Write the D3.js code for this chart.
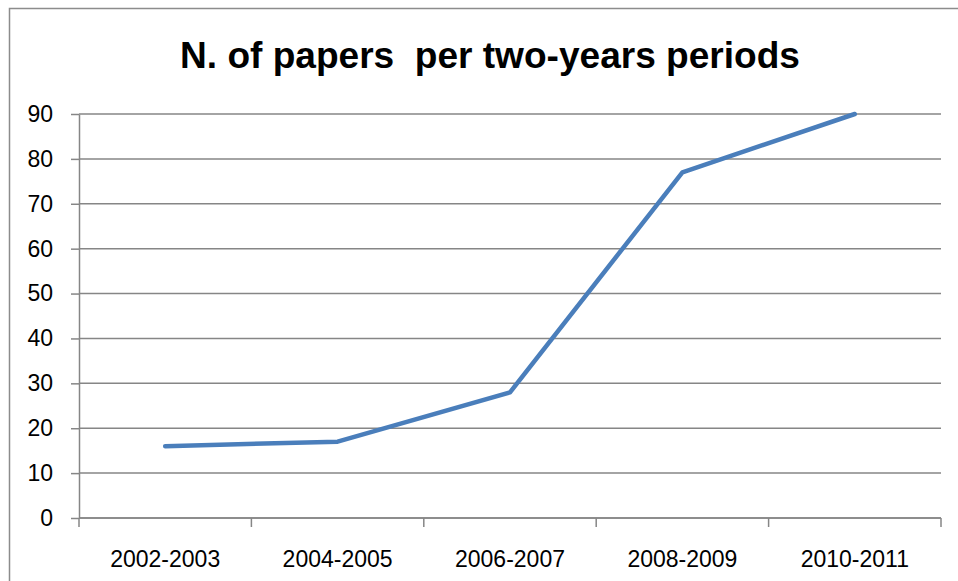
<!DOCTYPE html>
<html>
<head>
<meta charset="utf-8">
<script src="https://cdn.jsdelivr.net/npm/d3@7"></script>
<style>
  html, body { margin: 0; padding: 0; background: #fff; }
  svg { display: block; }
</style>
</head>
<body>
<svg id="chart" width="958" height="581"></svg>
<script>
// Papers published per two-year period
const periods = ["2002-2003", "2004-2005", "2006-2007", "2008-2009", "2010-2011"];
const papers = [16, 17, 28, 77, 90];
const yTicks = [0, 10, 20, 30, 40, 50, 60, 70, 80, 90];
const titleText = "N. of papers\u00a0 per two-years periods";

const svg = d3.select("#chart");
const W = 958, H = 581;
const plot = { left: 79, right: 941, top: 114, bottom: 518 };
const gridColor = "#868686";
const font = "Liberation Sans, Arial, sans-serif";
const labelSize = "23px";

// chart frame (left and top edges are visible)
svg.append("path")
  .attr("d", `M9.5,${H} V8.5 H${W}`)
  .attr("fill", "none")
  .attr("stroke", "#8c8c8c")
  .attr("stroke-width", 1.5);

const x = d3.scaleBand().domain(periods).range([plot.left, plot.right]);
const y = d3.scaleLinear().domain([0, 90]).range([plot.bottom, plot.top]);

// horizontal gridlines
svg.append("g")
  .selectAll("line")
  .data(yTicks)
  .join("line")
  .attr("x1", plot.left)
  .attr("x2", plot.right)
  .attr("y1", d => y(d))
  .attr("y2", d => y(d))
  .attr("stroke", gridColor)
  .attr("stroke-width", 1.5);

// y axis
const yAxis = svg.append("g")
  .attr("transform", `translate(${plot.left},0)`)
  .call(d3.axisLeft(y).tickValues(yTicks).tickSize(8).tickPadding(18).tickSizeOuter(0));
yAxis.select(".domain").attr("stroke", gridColor).attr("stroke-width", 1.5);
yAxis.selectAll(".tick line").attr("stroke", gridColor).attr("stroke-width", 1.5);
yAxis.selectAll(".tick text")
  .attr("fill", "#000")
  .style("font-family", font)
  .style("font-size", labelSize);

// x axis with tick marks at category boundaries
const xAxis = svg.append("g")
  .attr("transform", `translate(0,${plot.bottom})`)
  .call(d3.axisBottom(x).tickSize(0).tickPadding(33).tickSizeOuter(0));
xAxis.select(".domain").remove();
xAxis.selectAll(".tick text")
  .attr("fill", "#000")
  .style("font-family", font)
  .style("font-size", labelSize);
const bounds = periods.map(p => x(p)).concat([x(periods[periods.length - 1]) + x.bandwidth()]);
xAxis.append("g")
  .selectAll("line")
  .data(bounds)
  .join("line")
  .attr("x1", d => d)
  .attr("x2", d => d)
  .attr("y1", 0)
  .attr("y2", 9)
  .attr("stroke", gridColor)
  .attr("stroke-width", 1.5);
xAxis.append("line")
  .attr("x1", plot.left).attr("x2", plot.right)
  .attr("y1", 0).attr("y2", 0)
  .attr("stroke", gridColor).attr("stroke-width", 1.5);

// data line
const line = d3.line()
  .x((d, i) => x(periods[i]) + x.bandwidth() / 2)
  .y(d => y(d));
svg.append("path")
  .datum(papers)
  .attr("d", line)
  .attr("fill", "none")
  .attr("stroke", "#4A7EBB")
  .attr("stroke-width", 4.5)
  .attr("stroke-linejoin", "round")
  .attr("stroke-linecap", "round");

// title
const title = svg.append("text")
  .attr("x", 490)
  .attr("y", 68)
  .attr("text-anchor", "middle")
  .style("font-family", font)
  .style("font-weight", "bold")
  .style("font-size", "34px")
  .attr("fill", "#000")
  .text(titleText);
const tw = title.node().getComputedTextLength();
title.style("font-size", (34 * 620 / tw).toFixed(2) + "px");
</script>
</body>
</html>
